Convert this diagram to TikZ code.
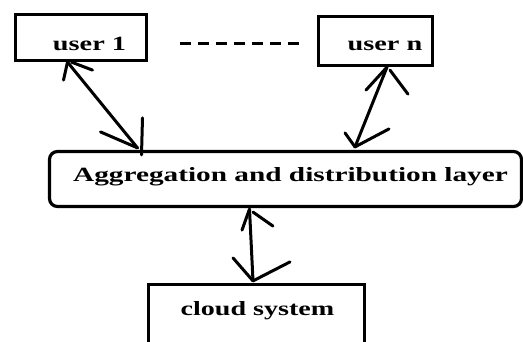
\documentclass[tikz,border=0pt]{standalone}
\usepackage{fontspec}
\setmainfont{Liberation Serif}
\usetikzlibrary{calc}
\begin{document}
\begin{tikzpicture}[x=1pt,y=-1pt,
  box/.style={draw, line width=3.2pt, inner sep=0pt},
  lbl/.style={font=\bfseries\fontsize{20.2}{21}\selectfont, inner sep=0pt, anchor=base},
  stroke/.style={line width=3pt, line cap=round},
  dashline/.style={line width=3pt, dash pattern=on 11pt off 7pt}]
\clip (0,0) rectangle (523,341);
% boxes
\node[box, minimum width=131pt, minimum height=46pt] (u1) at (81,37.5) {};
\node[box, minimum width=114pt, minimum height=49pt] (un) at (375.5,41) {};
\node[box, rounded corners=8pt, minimum width=472pt, minimum height=55pt] (agg) at (285.5,179) {};
\node[box, minimum width=216pt, minimum height=76pt] (cl) at (256.5,322.5) {};
% labels
\node[lbl] (t1) at (89.5,50) {\scalebox{1.4}[1]{user 1}};
\node[lbl] (tn) at (385,50) {\scalebox{1.4}[1]{user n}};
\node[lbl] (ta) at (290.5,181.5) {\scalebox{1.45}[1]{Aggregation and distribution layer}};
\node[lbl] (tc) at (257.5,315) {\scalebox{1.39}[1]{cloud system}};
% dashed connector between users
\draw[dashline] ($(u1.east)+(32,5.5)$) -- ($(un.west)+(-17,2)$);
% arrow end points
\coordinate (a1t) at ($(u1.south)+(-13.5,0)$);
\coordinate (a1b) at ($(agg.north)+(-148,-2)$);
\coordinate (ant) at ($(un.south)+(11.5,0)$);
\coordinate (anb) at ($(agg.north)+(69.5,-3)$);
\coordinate (a3t) at ($(agg.south)+(-36,1)$);
\coordinate (a3b) at ($(cl.north)+(-3.5,-2)$);
% arrow user 1 <-> layer
\draw[stroke] (a1t) -- (a1b);
\draw[stroke] (a1t) -- ++(-4,18);
\draw[stroke] ($(a1t)+(4,0)$) -- ++(21,8);
\draw[stroke] (a1b) -- ++(-37,-16);
\draw[stroke] ($(a1b)+(5,-30)$) -- ++(-1,37);
% arrow user n <-> layer
\draw[stroke] (ant) -- (anb);
\draw[stroke] (ant) -- ++(-21,23);
\draw[stroke] ($(ant)+(3,3)$) -- ++(18,24);
\draw[stroke] (anb) -- ++(-10,-14);
\draw[stroke] (anb) -- ++(34,-18);
% arrow layer <-> cloud
\draw[stroke] (a3t) -- (a3b);
\draw[stroke] (a3t) -- ++(-7.5,21);
\draw[stroke] ($(a3t)+(3.5,3)$) -- ++(20,14);
\draw[stroke] (a3b) -- ++(-20,-23);
\draw[stroke] (a3b) -- ++(37,-19);
\end{tikzpicture}
\end{document}
